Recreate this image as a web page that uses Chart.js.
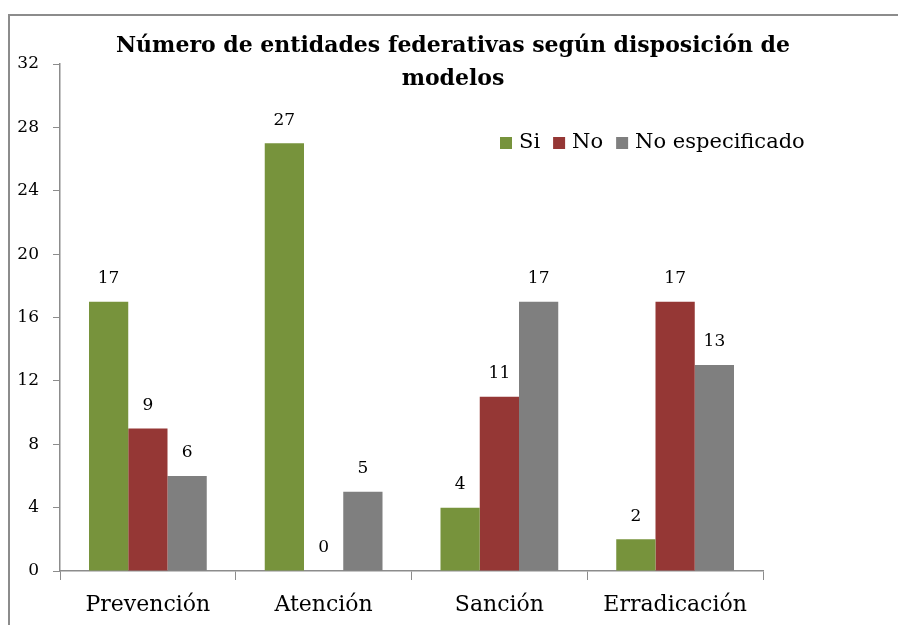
<!DOCTYPE html>
<html>
<head>
<meta charset="utf-8">
<script src="https://cdn.jsdelivr.net/npm/chart.js@4.4.0/dist/chart.umd.min.js"></script>
<style>
  body { margin: 0; background: #fff; }
  #wrap { position: relative; width: 898px; height: 625px; overflow: hidden; }
  #frame { position: absolute; left: 8px; top: 14px; width: 900px; height: 620px;
           border-left: 2px solid #8c8c8c; border-top: 2px solid #8c8c8c; }
  #myChart { position: absolute; left: 0; top: 0; }
</style>
</head>
<body>
<div id="wrap">
  <div id="frame"></div>
  <canvas id="myChart" width="898" height="625"></canvas>
</div>
<script>
const ctx = document.getElementById('myChart').getContext('2d');

const labels = ["Prevención", "Atención", "Sanción", "Erradicación"];

const si = [17, 27, 4, 2];
const no = [9, 0, 11, 17];
const noEspecificado = [6, 5, 17, 13];

const yTicks = [0, 4, 8, 12, 16, 20, 24, 28, 32];

const titleLines = ["Número de entidades federativas según disposición de", "modelos"];

const serif = "'DejaVu Serif', serif";

// etiquetas de valores, título y leyenda dibujados a mano
const extras = {
    id: 'extras',
    afterDatasetsDraw(chart) {
        const c = chart.ctx;
        c.save();
        c.fillStyle = '#000';
        c.font = "17px " + serif;
        c.textAlign = 'center';
        c.textBaseline = 'middle';
        chart.data.datasets.forEach((ds, i) => {
            chart.getDatasetMeta(i).data.forEach((bar, j) => {
                c.fillText(ds.data[j], bar.x, bar.y - 23);
            });
        });

        // title
        c.font = "bold 22px " + serif;
        c.fillText(titleLines[0], 453, 46);
        c.fillText(titleLines[1], 453, 79);

        // legend
        c.font = "21px " + serif;
        c.textAlign = 'left';
        let x = 500;
        chart.data.datasets.forEach((ds) => {
            c.fillStyle = ds.backgroundColor;
            c.fillRect(x, 137, 12, 12);
            c.fillStyle = '#000';
            c.fillText(ds.label, x + 19, 143);
            x += 19 + c.measureText(ds.label).width + 13;
        });
        c.restore();
    }
};

const data = {
    labels: labels,
    datasets: [
        { label: "Si", data: si, backgroundColor: "#77933C" },
        { label: "No", data: no, backgroundColor: "#953735" },
        { label: "No especificado", data: noEspecificado, backgroundColor: "#7F7F7F" },
    ],
};

const config = {
    type: 'bar',
    data: data,
    options: {
        responsive: false,
        animation: false,
        layout: { padding: { top: 64, right: 135, left: 0, bottom: 0 } },
        datasets: {
            bar: { categoryPercentage: 0.67, barPercentage: 1.0 }
        },
        plugins: {
            legend: false,
            title: { display: false },
            tooltip: { enabled: false }
        },
        scales: {
            x: {
                afterFit: (scale) => { scale.height = 54; },
                grid: { drawOnChartArea: false, drawTicks: true, tickLength: 9, color: '#8c8c8c', offset: true },
                border: { color: '#8c8c8c', width: 1.5 },
                ticks: { color: '#000', font: { family: serif, size: 22 }, padding: 12 }
            },
            y: {
                min: 0,
                max: 32,
                afterFit: (scale) => { scale.width = 60; },
                afterBuildTicks: (scale) => { scale.ticks = yTicks.map(v => ({ value: v })); },
                grid: { drawOnChartArea: false, drawTicks: true, tickLength: 7, color: '#8c8c8c' },
                border: { color: '#8c8c8c', width: 1.5 },
                ticks: { color: '#000', font: { family: serif, size: 17 }, padding: 14 }
            }
        }
    },
    plugins: [extras]
};

const myChart = new Chart(ctx, config);
</script>
</body>
</html>
